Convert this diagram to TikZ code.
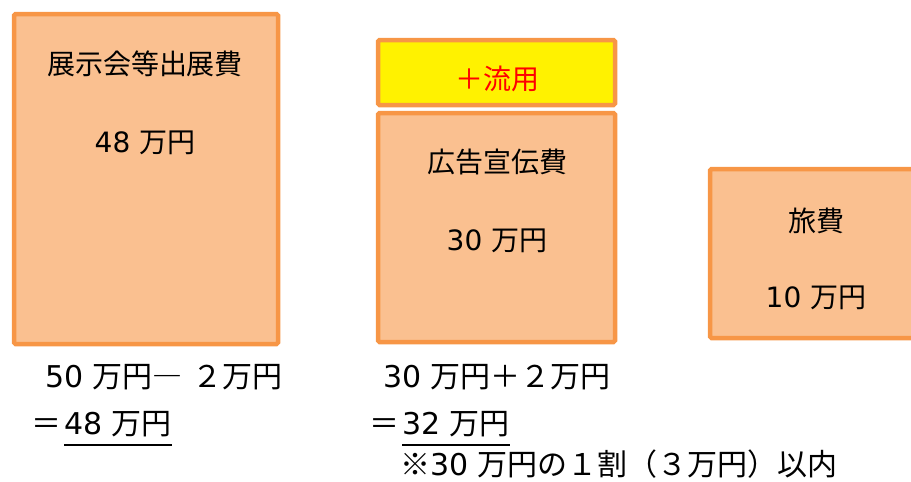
\documentclass[tikz,border=0pt]{standalone}
\usepackage{fontspec}
\setmainfont{Noto Sans CJK JP}
\newfontfamily\latfont{DejaVu Sans}
\newcommand\lat[1]{{\latfont #1}}
\usetikzlibrary{calc}
\definecolor{boxline}{RGB}{247,150,70}
\definecolor{boxfill}{RGB}{250,192,144}

\begin{document}
\begin{tikzpicture}[x=1pt,y=-1pt,
    budget/.style={draw=boxline,fill=boxfill,line width=4.5pt,rounded corners=1.5pt},
    transfer/.style={draw=boxline,fill=yellow,line width=4.5pt,rounded corners=1.5pt},
    txt/.style={font=\fontsize{28}{33}\selectfont,inner sep=0pt,anchor=base},
    calcline/.style={font=\fontsize{30}{36}\selectfont,inner sep=0pt,anchor=base west},
    sumline/.style={line width=2pt}]
    \useasboundingbox (0,0) rectangle (911,482);
    \clip (0,0) rectangle (911,482);
    \coordinate (A0) at (14,14);
    \coordinate (A1) at (278,344);
    \coordinate (B0) at (378,40);
    \coordinate (B1) at (615,105);
    \coordinate (C0) at (378,113);
    \coordinate (C1) at (615,342);
    \coordinate (D0) at (710,169);
    \coordinate (D1) at (930,338);
      \draw [budget] (A0) rectangle (A1);
      \draw [transfer] (B0) rectangle (B1);
      \draw [budget] (C0) rectangle (C1);
      \draw [budget] (D0) rectangle (D1);
      % box texts
      \node [txt] (expo) at (145,74) {展示会等出展費};
      \node [txt] (expoamt) at (145,152) {\lat{48 }万円};
      \node [txt,text=red] (plus) at (497,89) {＋流用};
      \node [txt] (ad) at (497,172) {広告宣伝費};
      \node [txt] (adamt) at (497,250) {\lat{30 }万円};
      \node [txt] (trav) at (816,231) {旅費};
      \node [txt] (travamt) at (816,307) {\lat{10 }万円};
      % calculations
      \node [calcline] (calcL) at (45,387) {\lat{50 }万円―\hspace{10pt}２万円};
      \node [calcline] (eqL) at (31,434) {＝};
      \node [calcline] (resL) at (64,434) {\lat{48 }万円};
      \node [calcline] (calcR) at (383,387) {\lat{30 }万円＋２万円};
      \node [calcline] (eqR) at (369,434) {＝};
      \node [calcline] (resR) at (402,434) {\lat{32 }万円};
      \node [calcline] (note) at (400,475) {※\lat{30 }万円の１割（３万円）以内};
      \draw [sumline] ([yshift=-8pt]resL.south west)
        -- ([yshift=-8pt]resL.south east);
      \draw [sumline] ([yshift=-8pt]resR.south west)
        -- ([yshift=-8pt]resR.south east);
\end{tikzpicture}
\end{document}
